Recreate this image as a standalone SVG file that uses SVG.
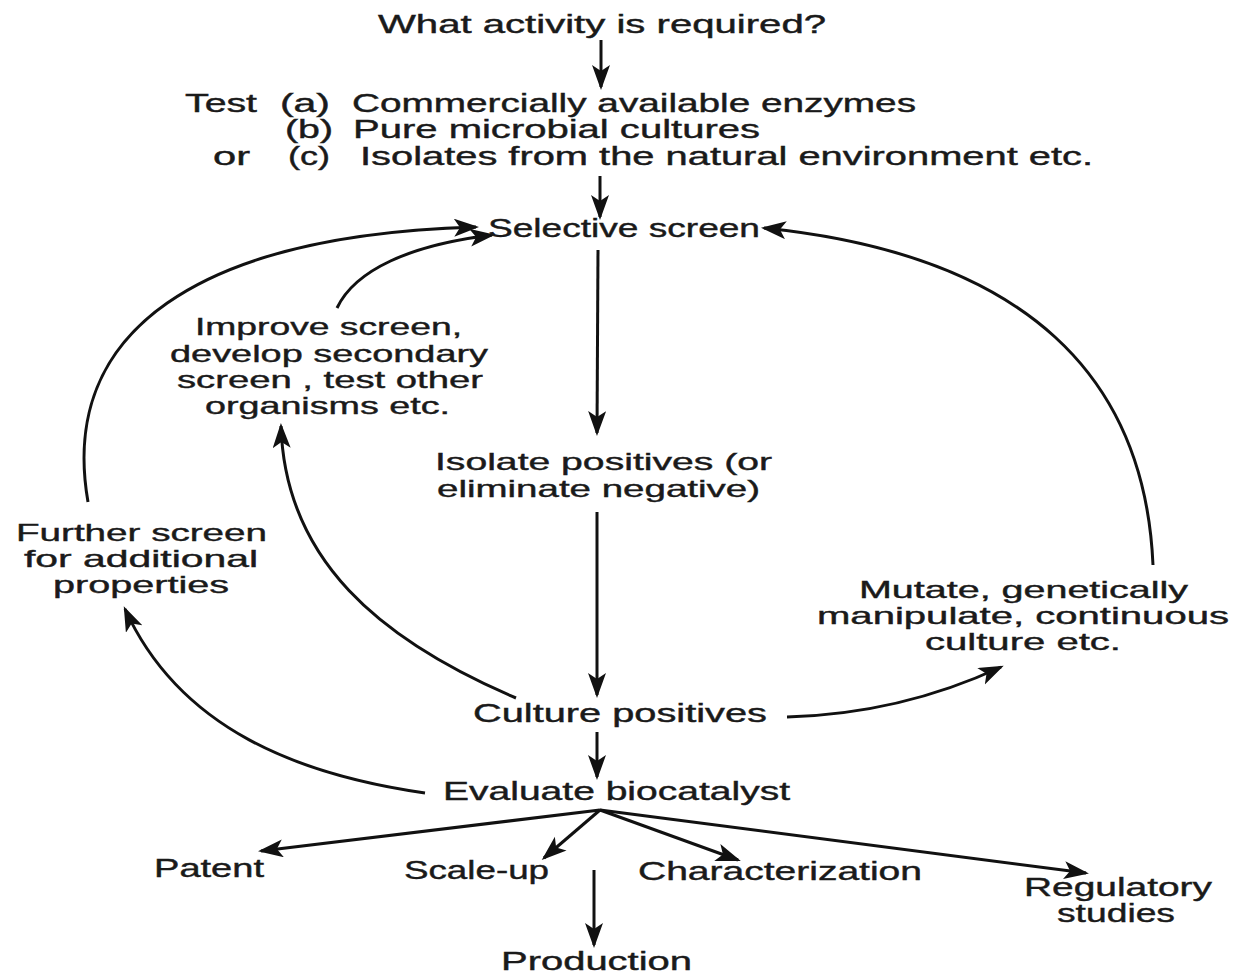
<svg xmlns="http://www.w3.org/2000/svg" width="1233" height="975" viewBox="0 0 1233 975">
<defs>
<marker id="ah" markerUnits="userSpaceOnUse" markerWidth="28" markerHeight="20" refX="22" refY="9" orient="auto">
<path d="M0,0 L25,9 L0,18 L6,9 z" fill="#111"/>
</marker>
<style>
text{font-family:"Liberation Sans",Arial,sans-serif;fill:#1a1a1a;stroke:#1a1a1a;stroke-width:0.4;}
.c{font-size:25px;}
.w{font-size:24px;}
.ln{fill:none;stroke:#111;stroke-width:3;marker-end:url(#ah);}
</style>
</defs>
<rect width="1233" height="975" fill="#fff"/>
<g id="connectors">
<path class="ln" d="M601,40 L601,87"/>
<path class="ln" d="M600,176 L600,217"/>
<path class="ln" d="M598,250 L597,433"/>
<path class="ln" d="M597,512 L597,695"/>
<path class="ln" d="M597,732 L597,777"/>
<path class="ln" d="M594,870 L594,945"/>
<path class="ln" d="M88,502 C58,330 200,235 476,227"/>
<path class="ln" d="M337,308 C355,270 410,245 492,235"/>
<path class="ln" d="M1153,565 C1145,380 1030,255 764,228"/>
<path class="ln" d="M787,717 C860,715 930,700 1001,667"/>
<path class="ln" d="M516,698 C380,640 285,560 281,426"/>
<path class="ln" d="M425,793 C300,775 180,730 125,609"/>
<path class="ln" d="M600,810 L261,851"/>
<path class="ln" d="M600,810 L544,858"/>
<path class="ln" d="M600,810 L738,860"/>
<path class="ln" d="M600,810 L1086,873"/>
</g>
<g id="n-required"><text class="c" x="378" y="33" textLength="448" lengthAdjust="spacingAndGlyphs">What activity is required?</text></g>
<g id="n-test">
<text class="c" x="185" y="112" textLength="72" lengthAdjust="spacingAndGlyphs">Test</text>
<text class="c" x="280" y="112" textLength="50" lengthAdjust="spacingAndGlyphs">(a)</text>
<text class="c" x="352" y="112" textLength="564" lengthAdjust="spacingAndGlyphs">Commercially available enzymes</text>
<text class="c" x="285" y="138" textLength="48" lengthAdjust="spacingAndGlyphs">(b)</text>
<text class="c" x="353" y="138" textLength="407" lengthAdjust="spacingAndGlyphs">Pure microbial cultures</text>
<text class="c" x="213" y="165" textLength="37" lengthAdjust="spacingAndGlyphs">or</text>
<text class="c" x="288" y="165" textLength="42" lengthAdjust="spacingAndGlyphs">(c)</text>
<text class="c" x="360" y="165" textLength="733" lengthAdjust="spacingAndGlyphs">Isolates from the natural environment etc.</text>
</g>
<g id="n-selective"><text class="c" x="488" y="237" textLength="272" lengthAdjust="spacingAndGlyphs">Selective screen</text></g>
<g id="n-improve">
<text class="w" x="195" y="335" textLength="267" lengthAdjust="spacingAndGlyphs">Improve screen,</text>
<text class="w" x="170" y="362" textLength="318" lengthAdjust="spacingAndGlyphs">develop secondary</text>
<text class="w" x="177" y="388" textLength="306" lengthAdjust="spacingAndGlyphs">screen , test other</text>
<text class="w" x="205" y="414" textLength="245" lengthAdjust="spacingAndGlyphs">organisms etc.</text>
</g>
<g id="n-isolate">
<text class="w" x="435" y="470" textLength="337" lengthAdjust="spacingAndGlyphs">Isolate positives (or</text>
<text class="w" x="437" y="497" textLength="323" lengthAdjust="spacingAndGlyphs">eliminate negative)</text>
</g>
<g id="n-further">
<text class="w" x="16" y="541" textLength="251" lengthAdjust="spacingAndGlyphs">Further screen</text>
<text class="w" x="24" y="567" textLength="234" lengthAdjust="spacingAndGlyphs">for additional</text>
<text class="w" x="53" y="593" textLength="176" lengthAdjust="spacingAndGlyphs">properties</text>
</g>
<g id="n-mutate">
<text class="w" x="859" y="598" textLength="329" lengthAdjust="spacingAndGlyphs">Mutate, genetically</text>
<text class="w" x="817" y="624" textLength="412" lengthAdjust="spacingAndGlyphs">manipulate, continuous</text>
<text class="w" x="925" y="650" textLength="196" lengthAdjust="spacingAndGlyphs">culture etc.</text>
</g>
<g id="n-culture"><text class="c" x="473" y="722" textLength="294" lengthAdjust="spacingAndGlyphs">Culture positives</text></g>
<g id="n-evaluate"><text class="c" x="443" y="800" textLength="347" lengthAdjust="spacingAndGlyphs">Evaluate biocatalyst</text></g>
<g id="n-patent"><text class="c" x="154" y="877" textLength="110" lengthAdjust="spacingAndGlyphs">Patent</text></g>
<g id="n-scaleup"><text class="c" x="404" y="879" textLength="145" lengthAdjust="spacingAndGlyphs">Scale-up</text></g>
<g id="n-char"><text class="c" x="638" y="880" textLength="284" lengthAdjust="spacingAndGlyphs">Characterization</text></g>
<g id="n-regulatory">
<text class="c" x="1024" y="896" textLength="188" lengthAdjust="spacingAndGlyphs">Regulatory</text>
<text class="c" x="1057" y="922" textLength="118" lengthAdjust="spacingAndGlyphs">studies</text>
</g>
<g id="n-production"><text class="c" x="501" y="970" textLength="191" lengthAdjust="spacingAndGlyphs">Production</text></g>
</svg>
